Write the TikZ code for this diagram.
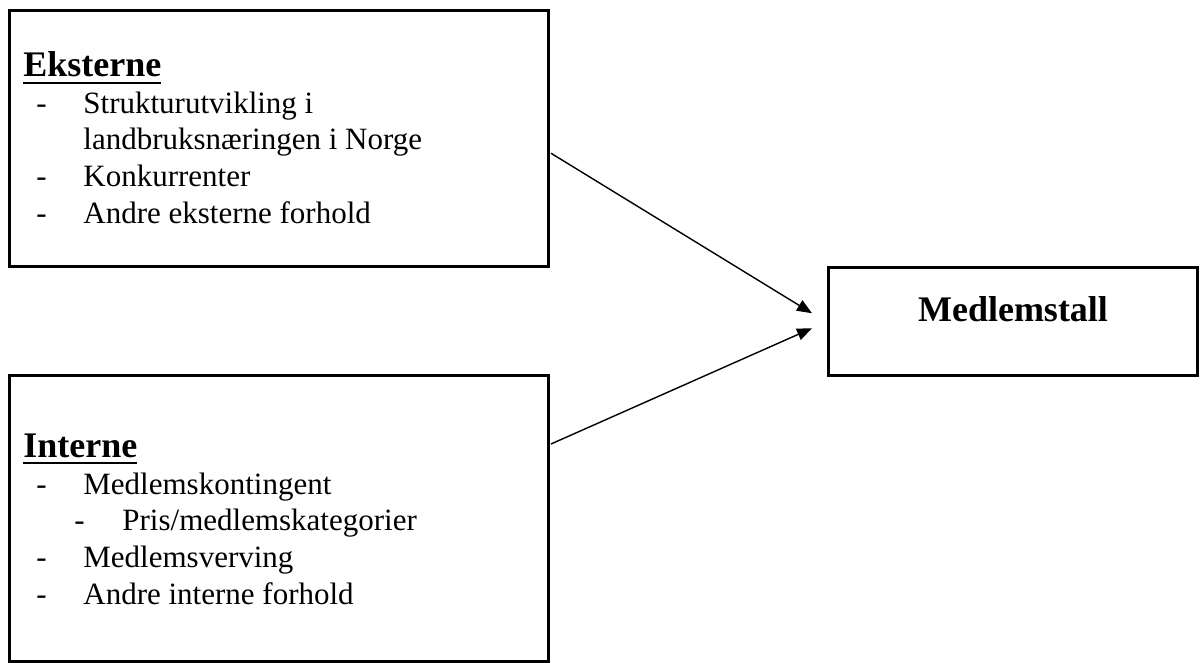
\documentclass[tikz,border=0pt]{standalone}
\usepackage{fontspec}
\setmainfont{Liberation Serif}
\usetikzlibrary{fit,calc,arrows.meta}
\newcommand\hdul[1]{\setbox0\hbox{#1}\rlap{\rule[-3.65pt]{\wd0}{1.3pt}}\box0}
\tikzset{
  boxframe/.style={draw=black, line width=1.5pt, inner sep=0pt},
  headtxt/.style={anchor=base west, inner sep=0pt, font=\fontsize{18}{21}\selectfont\bfseries},
  itemtxt/.style={anchor=base west, inner sep=0pt, font=\fontsize{15.5}{18.35}\selectfont},
  conn/.style={line width=0.7pt, -{Triangle[length=7.5pt,width=6pt]}}
}
\begin{document}
\begin{tikzpicture}[x=0.5pt,y=-0.5pt]
\useasboundingbox (0,0) rectangle (1200,663);
% boxes
\node[boxframe, fit={(9.5,10.5) (548.5,267)}] (ext) {};
\node[boxframe, fit={(9.5,376) (548.5,661)}] (int) {};
\node[boxframe, fit={(828.5,267.5) (1197.5,376)}, font=\fontsize{18}{21}\selectfont\bfseries] (res) {Medlemstall};
% external box text
\node[headtxt] (eh) at (23,77) {\hdul{Eksterne}};
\node[itemtxt] (ed1) at (36,114) {-};
\node[itemtxt] (et1) at (83,114) {Strukturutvikling i};
\node[itemtxt] (et1b) at (83,150) {landbruksnæringen i Norge};
\node[itemtxt] (ed2) at (36,187) {-};
\node[itemtxt] (et2) at (83,187) {Konkurrenter};
\node[itemtxt] (ed3) at (36,224) {-};
\node[itemtxt] (et3) at (83,224) {Andre eksterne forhold};
% internal box text
\node[headtxt] (ih) at (23,457) {\hdul{Interne}};
\node[itemtxt] (id1) at (36,494) {-};
\node[itemtxt] (it1) at (83,494) {Medlemskontingent};
\node[itemtxt] (id1s) at (74,530) {-};
\node[itemtxt] (it1s) at (122,530) {Pris/medlemskategorier};
\node[itemtxt] (id2) at (36,567) {-};
\node[itemtxt] (it2) at (83,567) {Medlemsverving};
\node[itemtxt] (id3) at (36,604) {-};
\node[itemtxt] (it3) at (83,604) {Andre interne forhold};
% connectors
\draw[conn] ($(ext.east)+(1,14.5)$) -- ($(res.west)+(-15,-8.5)$);
\draw[conn] ($(int.east)+(1,-74.5)$) -- ($(res.west)+(-15,6.5)$);
\end{tikzpicture}
\end{document}
